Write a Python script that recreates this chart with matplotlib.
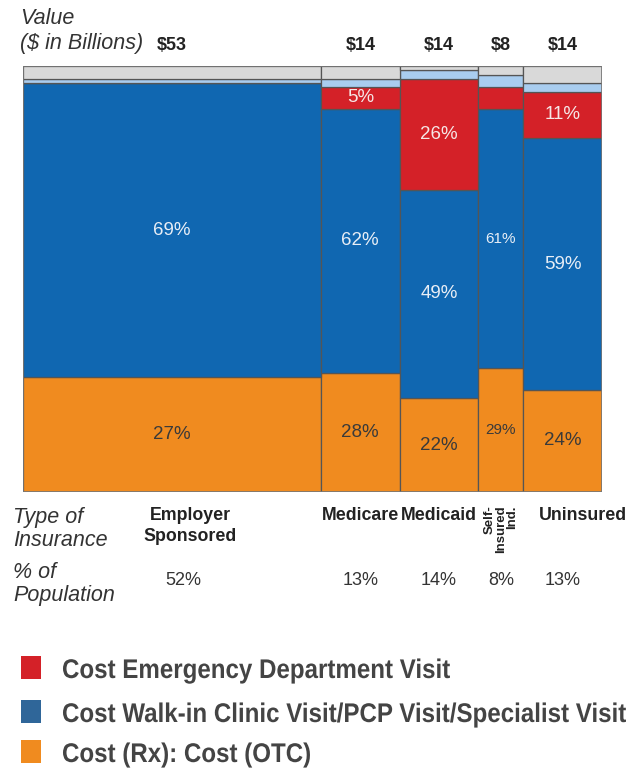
import matplotlib.pyplot as plt
from matplotlib.patches import Rectangle, PathPatch
from matplotlib.textpath import TextPath
from matplotlib.font_manager import FontProperties
from matplotlib.transforms import Affine2D

# insurance types, spend per type ($bn) and share of population
plans = ['Employer\nSponsored', 'Medicare', 'Medicaid', 'Self-\nInsured\nInd.', 'Uninsured']
value_bn = [53, 14, 14, 8, 14]
population_pct = [52, 13, 14, 8, 13]

# cost split within each type (% of column), bottom to top
rx_otc = [27, 28, 22, 29, 24]
walk_in = [69, 62, 49, 61, 59]
emergency = [0, 5, 26, 5, 11]
other_light = [1, 2, 2, 3, 2]
other_grey = [3, 3, 1, 2, 4]
show_emergency = [False, True, True, False, True]

legend_labels = ['Cost Emergency Department Visit',
                 'Cost Walk-in Clinic Visit/PCP Visit/Specialist Visit',
                 'Cost (Rx): Cost (OTC)']

RED = '#d42128'
BLUE = '#1067b1'
ORANGE = '#f08b1f'
LIGHT = '#a9cdef'
GREY = '#d9d9d9'
EDGE = '#555555'

W, H = 629, 769
fig = plt.figure(figsize=(W / 100, H / 100), dpi=100)
plt.rcParams['font.family'] = ['Liberation Sans', 'DejaVu Sans']


def fx(x):
    return x / W


def fy(y):
    return 1 - y / H


ax = fig.add_axes([fx(23), fy(492), (602 - 23) / W, (492 - 66) / H])
ax.set_xlim(0, sum(value_bn))
ax.set_ylim(0, 100)
ax.axis('off')

lefts = []
pos = 0
for v in value_bn:
    lefts.append(pos)
    pos += v

layers = [(rx_otc, ORANGE), (walk_in, BLUE), (emergency, RED),
          (other_light, LIGHT), (other_grey, GREY)]
bottom = [0] * len(plans)
for vals, col in layers:
    ax.bar(lefts, vals, width=value_bn, bottom=bottom, align='edge',
           color=col, edgecolor=EDGE, linewidth=0.9)
    bottom = [b + v for b, v in zip(bottom, vals)]

ax.add_patch(Rectangle((0, 0), sum(value_bn), 100, fill=False,
                       edgecolor='#777777', linewidth=1.2))

# segment labels
for i in range(len(plans)):
    xc = lefts[i] + value_bn[i] / 2
    small = value_bn[i] < 10
    fs = 11 if small else 13.5
    ax.text(xc, rx_otc[i] / 2, f'{rx_otc[i]}%', ha='center', va='center',
            fontsize=fs, color='#3a3a3a')
    ax.text(xc, rx_otc[i] + walk_in[i] / 2, f'{walk_in[i]}%', ha='center',
            va='center', fontsize=fs, color='#e8eef6')
    if show_emergency[i]:
        ax.text(xc, rx_otc[i] + walk_in[i] + emergency[i] / 2, f'{emergency[i]}%',
                ha='center', va='center', fontsize=fs, color='#f6e6e6')
    # spend above each column
    ax.text(xc, 104.8, f'${value_bn[i]}', ha='center', va='center',
            fontsize=13, fontweight='bold', color='#222222', clip_on=False)
    # population share below
    dx = 2 if i == 0 else 0
    ax.text(xc + dx, -20.8, f'{population_pct[i]}%', ha='center', va='center',
            fontsize=13, color='#333333', clip_on=False)

# insurance type names
name_style = dict(fontsize=12.8, fontweight='bold', color='#222222',
                  va='top', clip_on=False)
for i, name in enumerate(plans):
    xc = lefts[i] + value_bn[i] / 2
    if i == 0:
        ax.text(xc + 3.3, -3.6, name, ha='center', linespacing=1.25, **name_style)
    elif i == 3:
        ax.text(xc, -3.2, name, ha='center', va='top', rotation=90,
                multialignment='right', fontsize=9.5, fontweight='bold',
                color='#222222', linespacing=0.9, clip_on=False)
    elif i == 4:
        ax.text(lefts[i] + 2.7, -3.6, name, ha='left', **name_style)
    else:
        ax.text(xc, -3.6, name, ha='center', **name_style)

# row captions
cap = dict(fontsize=15.5, style='italic', color='#333333', va='center', ha='left')
fig.text(fx(20), fy(18), 'Value', **cap)
fig.text(fx(20), fy(43), '($ in Billions)', **cap)
fig.text(fx(13), fy(517), 'Type of', **cap)
fig.text(fx(13), fy(540), 'Insurance', **cap)
fig.text(fx(13), fy(572), '% of', **cap)
fig.text(fx(13), fy(595), 'Population', **cap)

# legend: bold text squeezed horizontally to a condensed look
legend_colors = [RED, '#2f6699', ORANGE]
legend_base = [678, 722, 762]
prop = FontProperties(family='Liberation Sans', weight='bold')
paths = [TextPath((0, 0), s, size=27, prop=prop) for s in legend_labels]
squeeze = 563 / max(p.get_extents().width for p in paths)
for path, col, yb in zip(paths, legend_colors, legend_base):
    fig.add_artist(Rectangle((fx(21), fy(yb + 1)), 20 / W, 23 / H,
                             transform=fig.transFigure, facecolor=col,
                             edgecolor='none'))
    tr = Affine2D().scale(squeeze / 100, 1 / 100).translate(62 / 100, (H - yb) / 100)
    fig.add_artist(PathPatch(path, transform=tr + fig.dpi_scale_trans,
                             facecolor='#444444', edgecolor='none'))

fig.savefig('out.png', dpi=100)
